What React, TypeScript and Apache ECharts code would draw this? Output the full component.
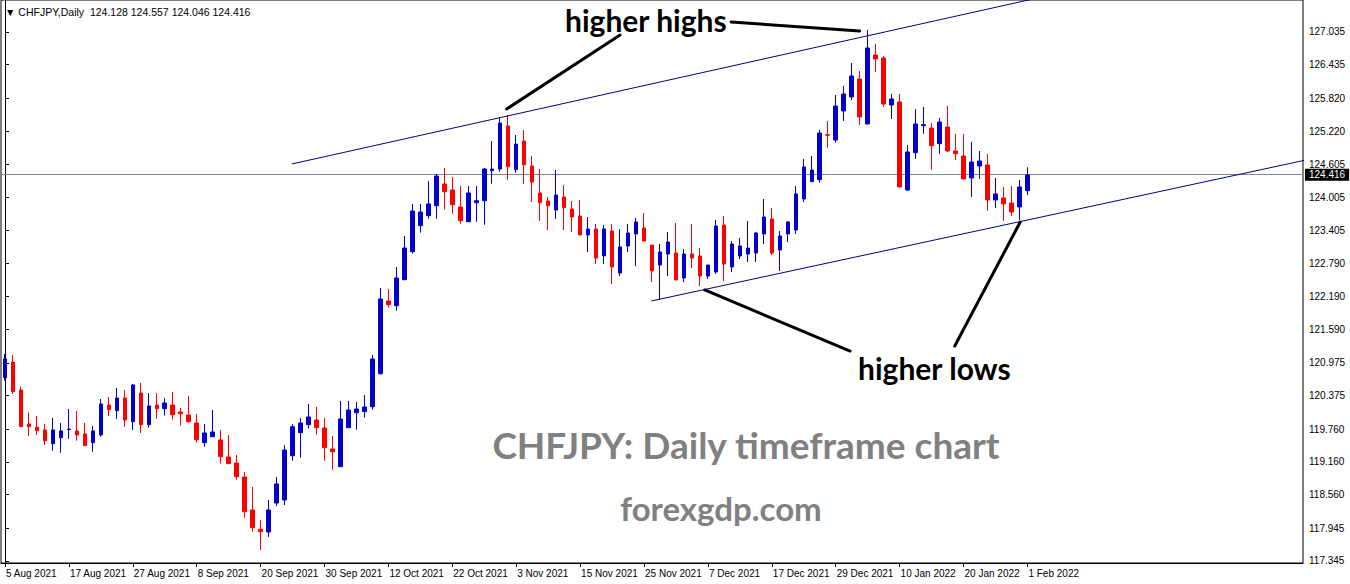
import React, { useEffect, useRef } from "react";
import * as echarts from "echarts";

// ---- Data (CHFJPY daily, 5 Aug 2021 .. 1 Feb 2022) ----
const open = [
  120.703, 120.99, 120.477, 119.855, 119.794, 119.745, 119.494, 119.604, 119.754, 119.727,
  119.672, 119.513, 119.653, 120.202, 120.098, 120.33, 119.897, 120.422, 119.842, 120.202,
  120.135, 120.202, 120.074, 120.019, 119.873, 119.513, 119.622, 119.562, 119.25, 119.14,
  118.884, 118.279, 117.926, 117.876, 118.407, 118.462, 119.274, 119.696, 119.842, 119.928,
  119.781, 119.397, 119.072, 119.787, 120.062, 120.08, 120.171, 120.776, 122.108, 122.022,
  122.497, 123.011, 123.487, 123.67, 123.854, 124.251, 124.141, 123.83, 123.56, 123.908,
  123.945, 124.494, 124.525, 125.313, 124.512, 125.038, 124.58, 124.086, 123.94, 123.774,
  124.013, 123.793, 123.664, 123.316, 123.426, 122.932, 123.39, 122.62, 123.115, 123.335,
  123.445, 123.133, 122.767, 122.968, 122.987, 122.529, 122.968, 122.932, 122.565, 122.639,
  123.5, 122.73, 122.932, 122.968, 122.987, 123.335, 123.609, 123.042, 123.335, 123.408,
  123.976, 124.293, 124.329, 125.154, 125.056, 125.588, 125.844, 126.174, 125.35, 126.614,
  126.559, 125.698, 125.753, 124.141, 124.824, 125.319, 125.276, 124.989, 125.295, 124.855,
  124.763, 124.361, 124.58, 124.599, 123.958, 123.994, 123.903, 123.83, 124.128,
];
const close = [
  121.045, 120.446, 119.805, 119.805, 119.732, 119.549, 119.745, 119.727, 119.763, 119.653,
  119.458, 119.727, 120.221, 120.116, 120.33, 119.928, 120.569, 119.842, 120.184, 120.135,
  120.239, 120.025, 120.043, 119.897, 119.567, 119.69, 119.708, 119.255, 119.127, 118.889,
  118.248, 117.955, 117.882, 118.279, 118.756, 119.378, 119.805, 119.873, 119.983, 119.787,
  119.421, 119.347, 119.946, 120.111, 120.129, 120.166, 121.045, 122.144, 122.04, 122.529,
  123.078, 123.756, 123.737, 123.885, 124.397, 124.11, 123.872, 123.578, 124.086, 123.945,
  124.525, 124.525, 125.368, 124.567, 124.983, 124.604, 124.287, 123.908, 123.854, 124.049,
  123.817, 123.646, 123.316, 123.426, 122.895, 123.426, 122.73, 123.097, 123.353, 123.555,
  123.206, 122.657, 123.005, 123.188, 122.492, 122.968, 122.895, 122.565, 122.767, 123.481,
  122.785, 123.151, 123.115, 123.078, 123.353, 123.646, 122.987, 123.298, 123.555, 124.068,
  124.562, 124.507, 125.185, 125.143, 125.679, 125.899, 126.229, 125.478, 126.742, 126.54,
  125.716, 125.808, 124.196, 124.837, 125.35, 125.337, 124.952, 125.386, 124.855, 124.806,
  124.342, 124.654, 124.672, 123.958, 124.068, 123.885, 123.737, 124.196, 124.416,
];
const low = [
  120.648, 120.404, 119.805, 119.635, 119.653, 119.47, 119.365, 119.329, 119.58, 119.549,
  119.458, 119.347, 119.622, 120.001, 119.946, 119.805, 119.745, 119.69, 119.787, 119.952,
  120.007, 119.934, 119.824, 119.879, 119.513, 119.439, 119.622, 119.127, 119.127, 118.834,
  118.138, 117.882, 117.547, 117.785, 118.352, 118.37, 119.182, 119.237, 119.769, 119.659,
  119.182, 119.017, 119.072, 119.787, 119.751, 119.97, 120.116, 120.758, 121.985, 121.93,
  122.497, 122.974, 123.359, 123.615, 123.615, 123.78, 123.706, 123.524, 123.56, 123.56,
  123.505, 124.256, 124.476, 124.329, 124.457, 124.256, 123.921, 123.573, 123.408, 123.609,
  123.408, 123.371, 123.316, 123.005, 122.785, 122.785, 122.419, 122.565, 123.005, 122.748,
  123.206, 122.455, 122.126, 122.565, 122.492, 122.455, 122.712, 122.382, 122.51, 122.602,
  122.474, 122.639, 122.877, 122.822, 122.822, 123.151, 122.95, 122.657, 123.188, 123.335,
  123.921, 124.293, 124.274, 124.915, 125.007, 125.405, 125.789, 125.331, 125.35, 126.302,
  125.661, 125.441, 124.196, 124.122, 124.709, 125.172, 124.507, 124.8, 124.837, 124.69,
  124.342, 124.013, 124.342, 123.761, 123.811, 123.573, 123.664, 123.591, 124.046,
];
const high = [
  121.137, 121.118, 120.538, 120.062, 120.001, 119.855, 119.965, 119.873, 120.129, 120.093,
  119.873, 119.818, 120.312, 120.349, 120.514, 120.477, 120.588, 120.606, 120.422, 120.422,
  120.33, 120.44, 120.147, 120.367, 120.038, 119.855, 120.111, 119.745, 119.653, 119.286,
  118.975, 118.701, 118.096, 118.462, 118.884, 119.47, 119.855, 119.965, 120.221, 120.166,
  119.965, 119.635, 120.276, 120.276, 120.257, 120.385, 121.118, 122.346, 122.328, 122.73,
  123.298, 123.885, 123.885, 124.306, 124.434, 124.543, 124.379, 124.214, 124.214, 124.214,
  124.543, 125.038, 125.478, 125.514, 125.148, 125.24, 124.763, 124.525, 124.013, 124.507,
  124.232, 123.94, 123.958, 123.646, 123.518, 123.5, 123.518, 123.426, 123.518, 123.628,
  123.719, 123.133, 123.151, 123.371, 123.536, 123.06, 123.518, 123.078, 122.767, 123.591,
  123.664, 123.206, 123.261, 123.573, 123.371, 123.976, 123.811, 123.389, 123.573, 124.214,
  124.709, 124.763, 125.24, 125.405, 125.881, 126.046, 126.467, 126.32, 127.071, 126.815,
  126.595, 125.899, 125.899, 124.965, 125.624, 125.661, 125.368, 125.46, 125.679, 125.167,
  125.167, 125.02, 124.855, 124.8, 124.361, 124.196, 124.214, 124.324, 124.557,
];

const yTicks = [
  117.345, 117.945, 118.56, 119.16, 119.76, 120.375, 120.975, 121.59, 122.19, 122.79,
  123.405, 124.005, 124.605, 125.22, 125.82, 126.435, 127.035,
];

const Y_MIN = 117.308;
const Y_MAX = 127.621;
const EMPTY_DAYS = 34; // empty space to the right of the last bar
const LABEL_EVERY = 8;

// trend lines: [barIndex, price]
const upperTrend = [[35.9, 124.617], [107.9, 126.962]];
const lowerTrend = [[80.9, 122.107], [128.0, 123.591]];
// black pointer strokes
const pointerHighsA = [[62.8, 125.624], [77.0, 126.98]];
const pointerHighsB = [[90.9, 127.218], [107.0, 127.053]];
const pointerLowsA = [[87.6, 122.309], [105.8, 121.191]];
const pointerLowsB = [[127.1, 123.554], [118.9, 121.283]];

const SYMBOL = "CHFJPY";
const TIMEFRAME = "Daily";
const MONTHS = ["Jan", "Feb", "Mar", "Apr", "May", "Jun", "Jul", "Aug", "Sep", "Oct", "Nov", "Dec"];

function buildDates(count: number): string[] {
  const out: string[] = [];
  let t = Date.UTC(2021, 7, 5);
  while (out.length < count) {
    const d = new Date(t);
    const wd = d.getUTCDay();
    if (wd !== 0 && wd !== 6) {
      out.push(`${d.getUTCDate()} ${MONTHS[d.getUTCMonth()]} ${d.getUTCFullYear()}`);
    }
    t += 86400000;
  }
  return out;
}

function extend(pts: number[][], toX: number): number[][] {
  const [a, b] = pts;
  const slope = (b[1] - a[1]) / (b[0] - a[0]);
  return [a, [toX, a[1] + slope * (toX - a[0])]];
}

export default function App() {
  const ref = useRef<HTMLDivElement>(null);

  useEffect(() => {
    if (!ref.current) return;
    const chart = echarts.init(ref.current, undefined, { renderer: "svg" });
    const nBars = open.length;
    const nCats = nBars + EMPTY_DAYS;
    const dates = buildDates(nCats);
    const candles = open.map((o, i) => [o, close[i], low[i], high[i]]);
    const last = nBars - 1;
    const showIdx = (i: number) => i <= last && i % LABEL_EVERY === 0;
    const font = "Liberation Sans";
    const annotFont = "Lato";

    const header = `\u25BC ${SYMBOL},${TIMEFRAME}  ${open[last].toFixed(3)} ${high[last].toFixed(3)} ${low[last].toFixed(3)} ${close[last].toFixed(3)}`;

    const pointerSeries = (data: number[][]) => ({
      type: "line",
      xAxisIndex: 1,
      yAxisIndex: 0,
      data,
      symbol: "none",
      silent: true,
      clip: false,
      lineStyle: { color: "#000000", width: 3, cap: "round" },
      z: 6,
    });

    const option: any = {
      animation: false,
      backgroundColor: "#ffffff",
      textStyle: { fontFamily: font },
      grid: {
        left: 1,
        right: 47,
        top: 0,
        bottom: 21,
        show: true,
        borderColor: "#000000",
        borderWidth: 1,
      },
      xAxis: [
        {
          type: "category",
          data: dates,
          boundaryGap: true,
          axisLine: { show: true, lineStyle: { color: "#000000", width: 1 } },
          axisTick: {
            show: true,
            alignWithLabel: true,
            interval: (i: number) => showIdx(i),
            length: 4,
            lineStyle: { color: "#000000" },
          },
          axisLabel: {
            interval: (i: number) => showIdx(i),
            align: "left",
            color: "#000000",
            fontSize: 10,
            fontFamily: font,
            margin: 5,
            padding: [0, 0, 0, 1],
          },
          splitLine: { show: false },
        },
        {
          type: "value",
          min: -0.5,
          max: nCats - 0.5,
          show: false,
        },
      ],
      yAxis: {
        type: "value",
        position: "right",
        min: Y_MIN,
        max: Y_MAX,
        axisLine: { show: true, lineStyle: { color: "#000000", width: 1 } },
        axisTick: {
          show: true,
          customValues: yTicks,
          length: 4,
          lineStyle: { color: "#000000" },
        },
        axisLabel: {
          customValues: yTicks,
          formatter: (v: number) => v.toFixed(3),
          color: "#000000",
          fontSize: 10,
          fontFamily: font,
          margin: 6,
        },
        splitLine: { show: false },
      },
      series: [
        {
          type: "candlestick",
          xAxisIndex: 0,
          yAxisIndex: 0,
          data: candles,
          barWidth: 4,
          itemStyle: {
            color: "#0000cd",
            color0: "#ff0000",
            borderColor: "#0000cd",
            borderColor0: "#ff0000",
            borderWidth: 1,
          },
          z: 3,
          markLine: {
            silent: true,
            symbol: ["none", "none"],
            data: [{ yAxis: close[last] }],
            lineStyle: { color: "#7d8896", width: 1, type: "solid" },
            label: {
              show: true,
              position: "end",
              formatter: close[last].toFixed(3),
              backgroundColor: "#000000",
              color: "#ffffff",
              fontSize: 10,
              fontFamily: font,
              padding: [1, 4, 1, 4],
              distance: 2,
            },
            z: 2,
          },
        },
        {
          type: "line",
          xAxisIndex: 1,
          yAxisIndex: 0,
          data: extend(upperTrend, nCats),
          symbol: "none",
          silent: true,
          clip: true,
          lineStyle: { color: "#000080", width: 1 },
          z: 4,
        },
        {
          type: "line",
          xAxisIndex: 1,
          yAxisIndex: 0,
          data: extend(lowerTrend, nCats),
          symbol: "none",
          silent: true,
          clip: true,
          lineStyle: { color: "#000080", width: 1 },
          z: 4,
        },
        pointerSeries(pointerHighsA),
        pointerSeries(pointerHighsB),
        pointerSeries(pointerLowsA),
        pointerSeries(pointerLowsB),
      ],
      graphic: [
        {
          type: "text",
          left: 5,
          top: 6,
          z: 10,
          style: { text: header, fill: "#000000", font: `10.5px "${font}"` },
        },
        {
          type: "text",
          x: 565,
          y: 20,
          z: 10,
          style: {
            text: "higher highs",
            fill: "#000000",
            font: `bold 30px "${annotFont}"`,
            verticalAlign: "middle",
          },
        },
        {
          type: "text",
          x: 858,
          y: 368,
          z: 10,
          style: {
            text: "higher lows",
            fill: "#000000",
            font: `bold 30px "${annotFont}"`,
            verticalAlign: "middle",
          },
        },
        {
          type: "text",
          x: 746,
          y: 444,
          z: 1,
          style: {
            text: `${SYMBOL}: ${TIMEFRAME} timeframe chart`,
            fill: "#808080",
            font: `bold 37px "${annotFont}"`,
            align: "center",
            verticalAlign: "middle",
          },
        },
        {
          type: "text",
          x: 721,
          y: 508,
          z: 1,
          style: {
            text: "forexgdp.com",
            fill: "#808080",
            font: `bold 33px "${annotFont}"`,
            align: "center",
            verticalAlign: "middle",
          },
        },
      ],
    };

    chart.setOption(option);
    return () => chart.dispose();
  }, []);

  return (
    <div
      ref={ref}
      style={{ position: "absolute", left: 0, top: 0, width: 1350, height: 584, background: "#fff" }}
    />
  );
}
